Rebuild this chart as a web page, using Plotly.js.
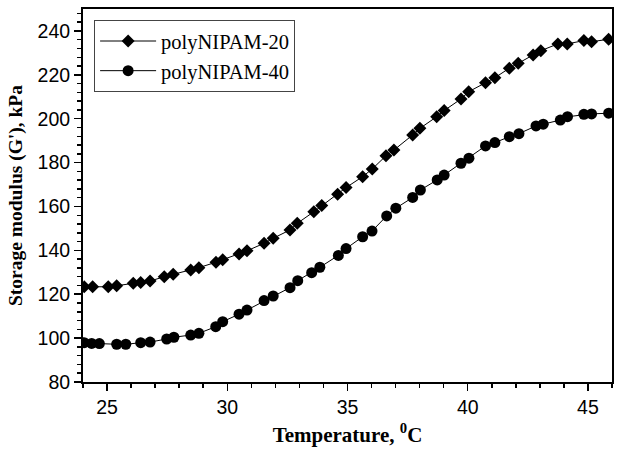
<!DOCTYPE html>
<html>
<head>
<meta charset="utf-8">
<script src="https://cdn.plot.ly/plotly-3.0.1.min.js"></script>
<style>html,body{margin:0;padding:0;background:#fff;}#chart{width:624px;height:459px;}</style>
</head>
<body>
<div id="chart"></div>
<script>
const tempA = [24.05,24.4,25.05,25.4,26.09,26.4,26.79,27.38,27.75,28.48,28.82,29.53,29.81,30.49,30.82,31.53,31.91,32.61,32.91,33.6,33.93,34.59,34.94,35.63,36.03,36.6,36.93,37.71,38.01,38.71,39.02,39.72,40.04,40.74,41.13,41.73,42.1,42.72,43.04,43.75,44.14,44.83,45.15,45.86];
const modA = [123.4,123.4,123.4,123.9,125.0,125.3,126.0,128.0,129.1,131.0,132.1,134.6,135.7,138.3,139.8,143.2,145.5,149.3,152.3,157.6,160.4,165.6,168.6,173.6,177.1,183.1,185.7,192.6,195.6,200.9,203.7,209.0,212.3,216.4,218.7,223.0,225.3,229.0,231.0,234.1,234.1,235.6,235.1,236.2];
const tempB = [24.05,24.36,24.68,25.4,25.78,26.4,26.79,27.48,27.78,28.48,28.82,29.52,29.81,30.49,30.82,31.53,31.91,32.61,32.93,33.51,33.85,34.62,34.94,35.63,36.02,36.63,37.01,37.71,38.03,38.73,39.02,39.72,40.05,40.74,41.13,41.73,42.13,42.84,43.14,43.85,44.15,44.83,45.15,45.86];
const modB = [97.9,97.6,97.5,97.2,97.2,97.9,98.2,99.6,100.4,101.4,102.2,105.2,107.5,110.9,112.8,117.1,119.2,123.0,126.2,129.8,132.3,137.7,140.8,146.2,148.8,155.7,159.2,164.1,167.5,172.1,174.3,179.7,182.0,187.6,189.1,191.8,193.2,196.7,197.5,199.4,200.9,202.0,202.2,202.5];
const seriesNames = ['polyNIPAM-20','polyNIPAM-40'];

const traces = [
  {x: tempA, y: modA, name: seriesNames[0], type: 'scatter', mode: 'lines+markers',
   line: {color: '#000', width: 1}, marker: {symbol: 'diamond', size: 10, color: '#000'}},
  {x: tempB, y: modB, name: seriesNames[1], type: 'scatter', mode: 'lines+markers',
   line: {color: '#000', width: 1}, marker: {symbol: 'circle', size: 11, color: '#000'}}
];

const tickFont = {family: 'Liberation Sans, Arial, sans-serif', size: 19.5, color: '#000'};
const serif = 'Liberation Serif, Times New Roman, serif';

const layout = {
  width: 624, height: 459,
  margin: {l: 83, r: 12, t: 9, b: 77},
  paper_bgcolor: '#fff', plot_bgcolor: '#fff',
  showlegend: true,
  legend: {x: 0.021, y: 0.97, xanchor: 'left', yanchor: 'top',
    bordercolor: '#444', borderwidth: 1, bgcolor: '#fff',
    font: {family: serif, size: 20.5, color: '#000'},
    tracegroupgap: 0, itemwidth: 56},
  xaxis: {
    range: [24, 46], tick0: 25, dtick: 5, ticks: 'outside', ticklen: 7, tickwidth: 1.5,
    tickcolor: '#000', showline: true, linecolor: '#000', linewidth: 2, mirror: true,
    showgrid: false, zeroline: false, tickfont: tickFont,
    minor: {dtick: 1, ticks: 'outside', ticklen: 4, tickwidth: 1.5, tickcolor: '#000', showgrid: false},
    title: {text: 'Temperature, <sup>0</sup>C', font: {family: serif, size: 21, color: '#000', weight: 'bold'}, standoff: 10}
  },
  yaxis: {
    range: [80, 250], tick0: 80, dtick: 20, ticks: 'outside', ticklen: 7, tickwidth: 1.5,
    tickcolor: '#000', showline: true, linecolor: '#000', linewidth: 2, mirror: true,
    showgrid: false, zeroline: false, tickfont: tickFont,
    minor: {dtick: 4, ticks: 'outside', ticklen: 4, tickwidth: 1.5, tickcolor: '#000', showgrid: false},
    title: {text: "Storage modulus (G'), kPa", font: {family: serif, size: 19.5, color: '#000', weight: 'bold'}, standoff: 10}
  }
};

Plotly.newPlot('chart', traces, layout, {displayModeBar: false, staticPlot: true});
</script>
</body>
</html>
